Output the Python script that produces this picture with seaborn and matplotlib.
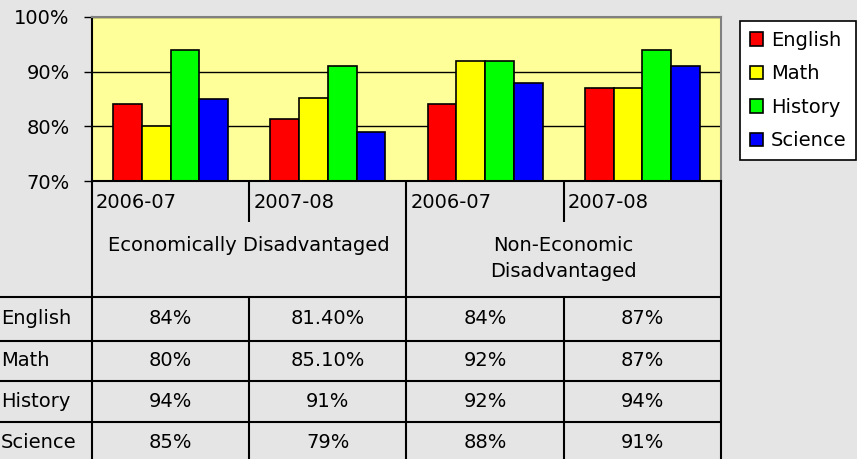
import pandas as pd
import matplotlib.pyplot as plt
import seaborn as sns
from matplotlib.ticker import FuncFormatter

# Chart data
subjects = ["English", "Math", "History", "Science"]
years = ["2006-07", "2007-08", "2006-07", "2007-08"]
groups = ["Economically Disadvantaged", "Non-Economic\nDisadvantaged"]
english = [84, 81.4, 84, 87]
math = [80, 85.1, 92, 87]
history = [94, 91, 92, 94]
science = [85, 79, 88, 91]
colors = ["#FF0000", "#FFFF00", "#00FF00", "#0000FF"]

series = [english, math, history, science]
cols = [f"c{i}" for i in range(len(years))]
rows = []
for subj, vals in zip(subjects, series):
    for c, v in zip(cols, vals):
        rows.append({"col": c, "subject": subj, "score": v})
df = pd.DataFrame(rows)

sns.set_style("white")
plt.rcParams["font.family"] = ["DejaVu Sans"]
plt.rcParams["text.color"] = "black"
plt.rcParams["ytick.color"] = "black"
plt.rcParams["ytick.labelcolor"] = "black"
FS = 14

W, H = 857, 459
fig = plt.figure(figsize=(W / 100, H / 100), dpi=100)
fig.patch.set_facecolor("#E5E5E5")

# layout in pixels
x0, x1 = 92, 721
ytop, ybot = 17, 181
ax = fig.add_axes([x0 / W, 1 - ybot / H, (x1 - x0) / W, (ybot - ytop) / H])

sns.barplot(data=df, x="col", y="score", hue="subject", order=cols,
            hue_order=subjects, palette=colors, saturation=1, width=0.73,
            edgecolor="black", linewidth=1.2, ax=ax)

ax.set_facecolor("#FFFF99")
ax.set_ylim(70, 100)
ax.set_xlim(-0.5, len(cols) - 0.5)
ax.set_yticks([70, 80, 90, 100])
ax.yaxis.set_major_formatter(FuncFormatter(lambda v, p: f"{v:.0f}%"))
ax.set_xticks([])
ax.set_xlabel("")
ax.set_ylabel("")
ax.yaxis.grid(True, color="black", linewidth=1)
ax.set_axisbelow(True)
ax.tick_params(axis="y", left=True, length=6, width=1, color="black",
               pad=10, labelsize=FS, labelcolor="black")
for side in ["left", "bottom"]:
    ax.spines[side].set_color("black")
    ax.spines[side].set_linewidth(1.5)
for side in ["top", "right"]:
    ax.spines[side].set_color("#808080")
    ax.spines[side].set_linewidth(1.5)

handles, labels = ax.get_legend_handles_labels()
ax.legend(handles, labels, loc="upper left",
          bbox_to_anchor=(740 / W, 1 - 21 / H), bbox_transform=fig.transFigure,
          fontsize=FS, frameon=True, fancybox=False, framealpha=1,
          edgecolor="black", handlelength=0.7, handleheight=0.7,
          handletextpad=0.4, labelspacing=0.75, borderpad=0.5,
          borderaxespad=0)
ax.get_legend().get_frame().set_linewidth(1.2)

# data table underneath
tb = fig.add_axes([0, 0, 1, 1], zorder=-1)
tb.set_xlim(0, W)
tb.set_ylim(H, 0)
tb.axis("off")
tb.patch.set_alpha(0)

cw = (x1 - x0) / len(cols)
edges = [x0 + i * cw for i in range(len(cols) + 1)]
row_edges = [297, 341, 381, 422, 463]
lk = dict(color="black", linewidth=1.5, solid_capstyle="butt")

for ye in row_edges[:-1]:
    tb.plot([0, x1], [ye, ye], **lk)
for i, xe in enumerate(edges):
    if i % 2 == 0:
        tb.plot([xe, xe], [ybot, H + 5], **lk)
    else:
        tb.plot([xe, xe], [ybot, 222], **lk)
        tb.plot([xe, xe], [row_edges[0], H + 5], **lk)

for i, yr in enumerate(years):
    tb.text(edges[i] + 4, 203, yr, fontsize=FS, ha="left", va="center")
for g, name in enumerate(groups):
    xc = (edges[2 * g] + edges[2 * g + 2]) / 2
    tb.text(xc, 236, name, fontsize=FS, ha="center", va="top",
            linespacing=1.45)

for r, (subj, vals) in enumerate(zip(subjects, series)):
    yc = (row_edges[r] + row_edges[r + 1]) / 2
    tb.text(1, yc, subj, fontsize=FS, ha="left", va="center")
    for i, v in enumerate(vals):
        txt = f"{v:.0f}%" if float(v).is_integer() else f"{v:.2f}%"
        tb.text((edges[i] + edges[i + 1]) / 2, yc, txt, fontsize=FS,
                ha="center", va="center")

plt.savefig("out.png", dpi=100, facecolor=fig.get_facecolor())
